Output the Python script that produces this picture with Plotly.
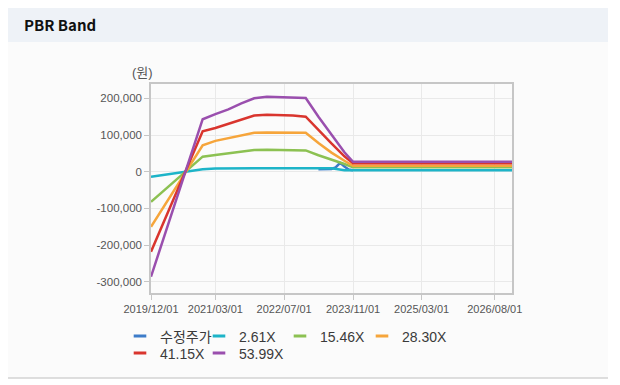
import plotly.graph_objects as go

# ---------------- data (won) ----------------
dates = ['2019-12-01', '2020-12-01', '2021-03-01', '2021-06-01', '2021-09-01',
         '2021-12-01', '2022-03-01', '2022-06-01', '2022-09-01', '2022-12-01',
         '2023-03-01', '2023-06-01', '2023-09-01', '2023-11-01', '2026-12-01']

band_2_61 = [-14000, 7000, 9000, 9300, 9500, 9600, 9600, 9600, 9600, 9500,
             9500, 9400, 4000, 4000, 4000]
band_15_46 = [-82000, 41000, 45500, 50000, 55000, 59000, 60000, 60000, 59000, 58000,
              45000, 34000, 21000, 12000, 12000]
band_28_30 = [-150000, 72000, 84000, 91000, 99000, 106000, 107000, 107000, 107000, 106000,
              78000, 52000, 30000, 16000, 16000]
band_41_15 = [-218000, 110000, 119000, 130000, 142000, 153000, 155000, 155000, 153000, 150000,
              113000, 77000, 42000, 23000, 23000]
band_53_99 = [-286000, 143000, 157000, 170000, 186000, 200000, 204000, 203000, 202000, 201000,
              150000, 100000, 53000, 27000, 27000]

price_dates = ['2023-03-01', '2023-04-01', '2023-05-01', '2023-06-01', '2023-07-01',
               '2023-08-01', '2023-09-01', '2023-10-01', '2023-11-01']
price = [7000, 7000, 7000, 7500, 12000, 24000, 14000, 6000, 4000]

series_names = ['수정주가', '2.61X', '15.46X', '28.30X', '41.15X', '53.99X']
colors = ['#3d7cc9', '#1db4c8', '#8cc152', '#f6a53b', '#d9352e', '#9a4fae']

x_tickvals = ['2019-12-01', '2021-03-01', '2022-07-01', '2023-11-01', '2025-03-01', '2026-08-01']
x_ticktext = ['2019/12/01', '2021/03/01', '2022/07/01', '2023/11/01', '2025/03/01', '2026/08/01']
y_tickvals = [-300000, -200000, -100000, 0, 100000, 200000]
y_ticktext = ['-300,000', '-200,000', '-100,000', '0', '100,000', '200,000']

# ---------------- layout geometry (page px) ----------------
PAGE_W, PAGE_H = 620, 385
OFF = 8  # default body margin of the html page
W, H = PAGE_W - OFF, PAGE_H - OFF
L, R, T, B = 151, 512, 84, 293


def px_x(px):
    return (px - L) / (R - L)


def px_y(py):
    return (B - py) / (B - T)


FONT = 'Liberation Sans, Arial, Noto Sans CJK KR, sans-serif'

fig = go.Figure()

all_x = [price_dates, dates, dates, dates, dates, dates]
all_y = [price, band_2_61, band_15_46, band_28_30, band_41_15, band_53_99]
for xs, ys, c in zip(all_x, all_y, colors):
    fig.add_trace(go.Scatter(x=xs, y=ys, mode='lines', line=dict(color=c, width=2.5),
                             showlegend=False, hoverinfo='skip'))

# legend entries (one legend per entry to match placement)
legend_keys = ['legend', 'legend2', 'legend3', 'legend4', 'legend5', 'legend6']
text_x = [160, 239, 320, 402, 160, 239]
row_y = [336.5, 336.5, 336.5, 336.5, 353.5, 353.5]
for name, c, key in zip(series_names, colors, legend_keys):
    fig.add_trace(go.Scatter(x=[None], y=[None], mode='markers', name=name,
                             marker=dict(symbol='line-ew', size=9,
                                         line=dict(color=c, width=3)),
                             legend=key, showlegend=True))

legend_cfg = {}
for key, tx, ry in zip(legend_keys, text_x, row_y):
    legend_cfg[key] = dict(x=px_x(tx - 40), y=px_y(ry), xanchor='left', yanchor='middle',
                           orientation='h', bgcolor='rgba(0,0,0,0)', borderwidth=0,
                           font=dict(family=FONT, size=14, color='#3a3a3a'))

shapes = [
    dict(type='rect', xref='paper', yref='paper', x0=px_x(8), x1=px_x(608),
         y0=px_y(378), y1=px_y(42), fillcolor='#fbfbfb', line=dict(width=0), layer='below'),
    dict(type='rect', xref='paper', yref='paper', x0=px_x(8), x1=px_x(608),
         y0=px_y(42), y1=px_y(6), fillcolor='#eef2f7', line=dict(width=0), layer='below'),
    dict(type='line', xref='paper', yref='paper', x0=px_x(8), x1=px_x(608),
         y0=px_y(6), y1=px_y(6), line=dict(color='#d3d6da', width=1.5), layer='below'),
    dict(type='line', xref='paper', yref='paper', x0=px_x(8), x1=px_x(608),
         y0=px_y(378), y1=px_y(378), line=dict(color='#d3d3d3', width=1.5), layer='below'),
]

annotations = [
    dict(text='<b>PBR Band</b>', x=px_x(22), y=px_y(24), xref='paper', yref='paper',
         xanchor='left', yanchor='middle', showarrow=False,
         font=dict(family='Noto Sans CJK KR, sans-serif', size=15, color='#111')),
    dict(text='(원)', x=px_x(142), y=px_y(72.5), xref='paper', yref='paper',
         xanchor='center', yanchor='middle', showarrow=False,
         font=dict(family=FONT, size=13, color='#555')),
]

fig.update_layout(
    width=W, height=H,
    margin=dict(l=L - OFF, r=PAGE_W - R, t=T - OFF, b=PAGE_H - B),
    paper_bgcolor='white', plot_bgcolor='white',
    font=dict(family=FONT, color='#555'),
    shapes=shapes, annotations=annotations,
    xaxis=dict(type='date', range=['2019-12-01', '2026-12-01'],
               tickvals=x_tickvals, ticktext=x_ticktext,
               showgrid=True, gridcolor='#e9e9e9', gridwidth=1,
               showline=True, linecolor='#c6c6c6', linewidth=1.5, mirror=True,
               ticks='outside', ticklen=5, tickcolor='#c6c6c6',
               tickfont=dict(family=FONT, size=11, color='#555'), zeroline=False),
    yaxis=dict(range=[-330500, 239000], tickvals=y_tickvals, ticktext=y_ticktext,
               showgrid=True, gridcolor='#e9e9e9', gridwidth=1,
               showline=True, linecolor='#c6c6c6', linewidth=1.5, mirror=True,
               ticks='outside', ticklen=5, tickcolor='#c6c6c6',
               tickfont=dict(family=FONT, size=11.5, color='#555'), zeroline=False),
    **legend_cfg,
)

fig.write_html('out.html')
